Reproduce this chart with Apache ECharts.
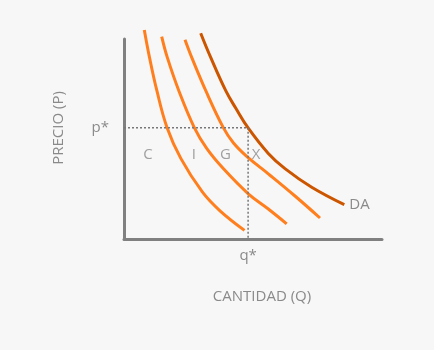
<!DOCTYPE html>
<html>
<head>
<meta charset="utf-8">
<script src="https://cdn.jsdelivr.net/npm/echarts@6/dist/echarts.min.js"></script>
<style>
  html, body { margin: 0; padding: 0; background: #f7f7f7; }
  #chart { width: 434px; height: 350px; }
</style>
</head>
<body>
<div id="chart"></div>
<script>
// curvas de demanda (cantidad, precio), unidades 0-100
let curveC = [[7.87,104.5],[9.88,90.8],[12.79,73.9],[16.67,55.8],[22.02,40.3],[30.43,23.4],[37.21,14.1],[46.71,4.3]];
let curveI = [[14.61,101.2],[16.78,90.8],[21.32,73.9],[27.25,55.7],[32.05,45.3],[38.49,35.2],[48.18,22.6],[55.93,15.0],[63.06,7.6]];
let curveG = [[23.64,99.6],[26.24,90.8],[31.78,73.9],[38.49,55.7],[42.44,48.0],[47.67,41.2],[55.93,32.6],[66.28,21.5],[75.97,10.5]];
let curveDA = [[29.73,102.9],[33.6,90.8],[39.53,73.9],[43.29,65.5],[48.18,55.4],[55.93,42.8],[62.4,35.2],[72.75,25.9],[85.39,17.2]];

let qStar = 48.1;
let pStar = 55.6;

// letras entre las curvas
let letters = ['C', 'I', 'G', 'X'];
let letterQ = [9.3, 27.1, 39.3, 51.2];
let letterP = 41.9;

let gray = '#8a8a8a';
let orange = '#ff7f1e';
let dark = '#cc5500';
let font = '"Open Sans", "Noto Sans", sans-serif';

let chart = echarts.init(document.getElementById('chart'));

let curveSeries = (data, color) => ({
  type: 'line',
  data: data,
  smooth: 0.4,
  symbol: 'none',
  clip: false,
  lineStyle: { color: color, width: 3 },
  z: 2
});

let option = {
  backgroundColor: '#f7f7f7',
  animation: false,
  grid: { left: 124, top: 39, right: 52, bottom: 111 },
  xAxis: {
    type: 'value',
    min: 0,
    max: 100,
    splitLine: { show: false },
    axisLine: { lineStyle: { color: '#808080', width: 3 } },
    axisTick: { show: false },
    axisLabel: {
      customValues: [qStar],
      formatter: () => 'q*',
      color: gray,
      fontSize: 15,
      fontFamily: font,
      margin: 9
    }
  },
  yAxis: {
    type: 'value',
    min: 0,
    max: 100,
    splitLine: { show: false },
    axisLine: { lineStyle: { color: '#808080', width: 3 } },
    axisTick: { show: false },
    axisLabel: {
      customValues: [pStar],
      formatter: () => 'p*',
      color: gray,
      fontSize: 15,
      fontFamily: font,
      margin: 15
    }
  },
  series: [
    curveSeries(curveC, orange),
    curveSeries(curveI, orange),
    curveSeries(curveG, orange),
    Object.assign(curveSeries(curveDA, dark), {
      endLabel: {
        show: true,
        formatter: 'DA',
        color: gray,
        fontSize: 15,
        fontFamily: font,
        distance: 5
      }
    }),
    {
      // lineas punteadas p* / q*
      type: 'line',
      data: [[0, pStar], [qStar, pStar], [qStar, 0]],
      symbol: 'none',
      lineStyle: { color: '#777777', width: 1.5, type: [2, 2] },
      z: 3
    },
    {
      type: 'scatter',
      data: letters.map((t, i) => [letterQ[i], letterP, t]),
      symbolSize: 0,
      label: {
        show: true,
        position: 'inside',
        formatter: p => p.value[2],
        color: gray,
        fontSize: 15,
        fontFamily: font
      },
      z: 4
    }
  ],
  graphic: [
    {
      type: 'text',
      x: 59,
      y: 128,
      rotation: Math.PI / 2,
      style: {
        text: 'PRECIO (P)',
        fill: gray,
        fontSize: 15,
        fontFamily: font,
        align: 'center',
        verticalAlign: 'middle'
      }
    },
    {
      type: 'text',
      x: 262,
      y: 297,
      style: {
        text: 'CANTIDAD (Q)',
        fill: gray,
        fontSize: 15,
        fontFamily: font,
        align: 'center',
        verticalAlign: 'middle'
      }
    }
  ]
};

chart.setOption(option);
</script>
</body>
</html>
